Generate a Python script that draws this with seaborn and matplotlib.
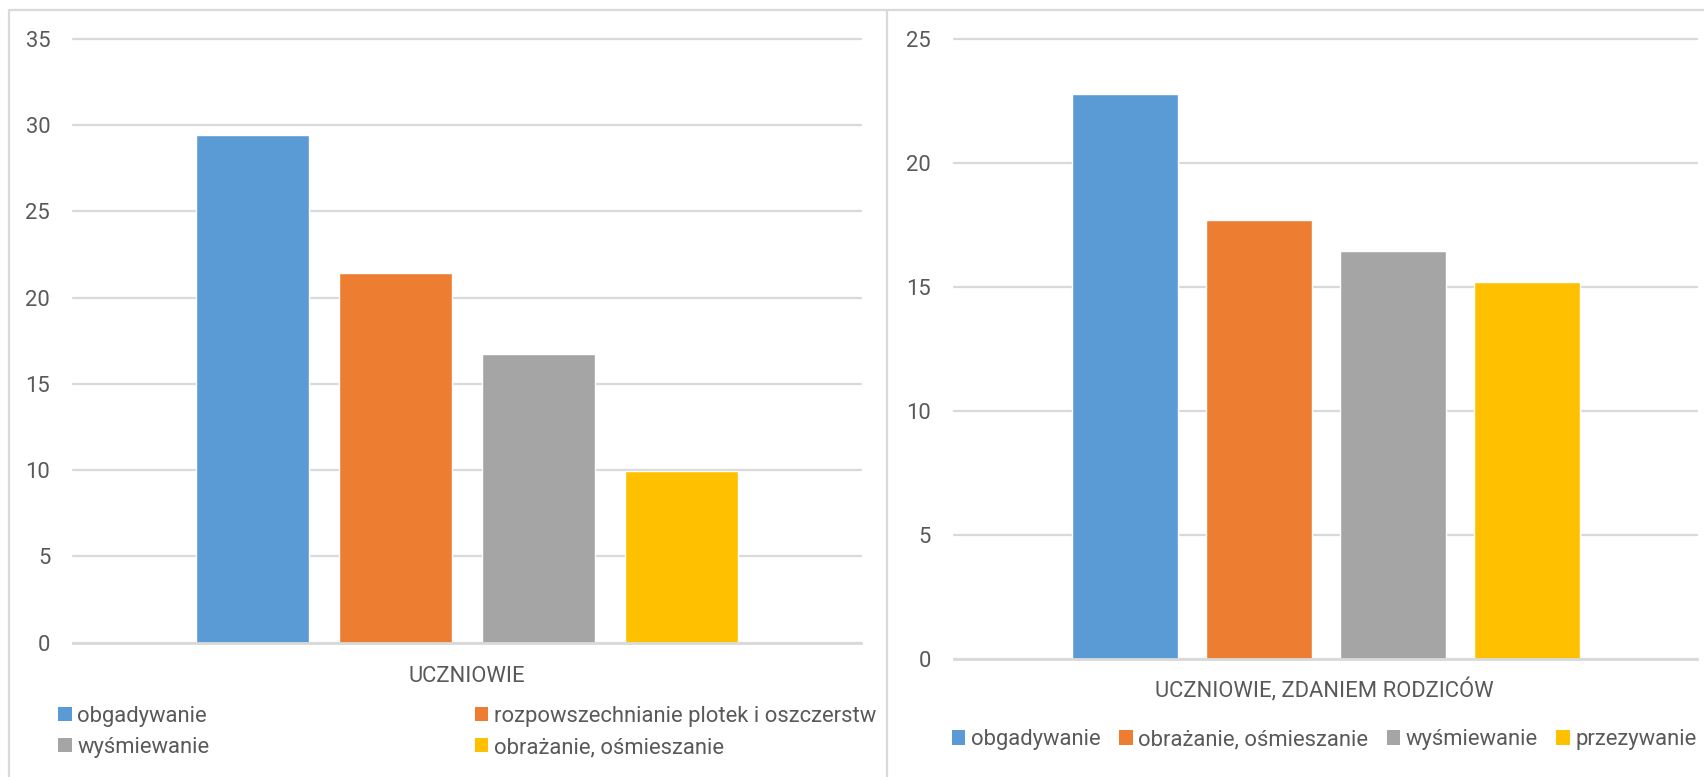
import matplotlib
matplotlib.use("Agg")
import matplotlib.pyplot as plt
import matplotlib.patches as mpatches
from matplotlib.lines import Line2D
import seaborn as sns
import pandas as pd

# ---------------- data ----------------
left_group = "UCZNIOWIE"
left_categories = ["obgadywanie", "rozpowszechnianie plotek i oszczerstw",
                   "wyśmiewanie", "obrażanie, ośmieszanie"]
left_values = [29.44, 21.43, 16.72, 9.96]
left_yticks = [0, 5, 10, 15, 20, 25, 30, 35]

right_group = "UCZNIOWIE, ZDANIEM RODZICÓW"
right_categories = ["obgadywanie", "obrażanie, ośmieszanie",
                    "wyśmiewanie", "przezywanie"]
right_values = [22.78, 17.70, 16.44, 15.19]
right_yticks = [0, 5, 10, 15, 20, 25]

colors = ["#5B9BD5", "#ED7D31", "#A5A5A5", "#FFC000"]

# ---------------- style ----------------
W, H = 1704, 777
sns.set_theme(style="white")
plt.rcParams['font.family'] = ['Roboto', 'DejaVu Sans']
TEXT = "#595959"
GRID = "#D9D9D9"
FS = 15.8

fig = plt.figure(figsize=(W / 100, H / 100), dpi=100)


def px_axes(x0, x1, y0, y1):
    return fig.add_axes([x0 / W, 1 - y1 / H, (x1 - x0) / W, (y1 - y0) / H])


def draw(ax, cats, vals, yticks, step_px, bar_px, width_px):
    df = pd.DataFrame({"cat": cats, "val": vals})
    sns.barplot(data=df, x="cat", y="val", hue="cat", order=cats, hue_order=cats,
                palette=colors, saturation=1, width=bar_px / step_px,
                legend=False, ax=ax, zorder=2)
    n = len(cats)
    half = width_px / step_px / 2
    ax.set_xlim((n - 1) / 2 - half, (n - 1) / 2 + half)
    ax.set_ylim(yticks[0], yticks[-1])
    ax.set_yticks(yticks)
    ax.set_xticks([])
    ax.set_xlabel("")
    ax.set_ylabel("")
    ax.yaxis.grid(True, color=GRID, linewidth=1.6)
    for g in ax.get_ygridlines():
        g.set_clip_on(False)
    ax.set_axisbelow(True)
    for s in ["top", "right", "left"]:
        ax.spines[s].set_visible(False)
    ax.spines["bottom"].set_color(GRID)
    ax.spines["bottom"].set_linewidth(2)
    ax.tick_params(axis="y", length=0, pad=16.6, labelsize=FS, labelcolor=TEXT)
    ax.set_facecolor("none")


# left chart
axL = px_axes(73.3, 860.7, 39, 642.7)
draw(axL, left_categories, left_values, left_yticks, 143, 113, 860.7 - 73.3)
fig.text(467 / W, 1 - 681.7 / H, left_group, ha="center", va="baseline",
         fontsize=FS, color=TEXT)

# right chart
axR = px_axes(954, 1697, 39, 659)
draw(axR, right_categories, right_values, right_yticks, 134, 106, 1697 - 954)
fig.text(1324 / W, 1 - 697 / H, right_group, ha="center", va="baseline",
         fontsize=FS, color=TEXT)

# legends
def handles_for(cats):
    return [mpatches.Patch(facecolor=colors[i], edgecolor="none") for i in range(len(cats))]

legkw = dict(frameon=False, handlelength=0.61, handleheight=0.61,
             handletextpad=0.25, borderpad=0, borderaxespad=0,
             fontsize=FS, labelcolor=TEXT, labelspacing=0.47)

hL = handles_for(left_categories)
fig.legend([hL[0], hL[2]], [left_categories[0], left_categories[2]],
           loc="center left", bbox_to_anchor=(58.3 / W, 1 - 731.9 / H), **legkw)
fig.legend([hL[1], hL[3]], [left_categories[1], left_categories[3]],
           loc="center left", bbox_to_anchor=(475 / W, 1 - 731.9 / H), **legkw)

hR = handles_for(right_categories)
fig.legend(hR, right_categories, loc="center left", ncol=4, columnspacing=0.85,
           bbox_to_anchor=(952 / W, 1 - 739.7 / H), **legkw)

# chart area borders
for xs, ys in [([9, 9], [10, H]), ([887, 887], [10, H]), ([9, W], [10, 10])]:
    fig.add_artist(Line2D([x / W for x in xs], [1 - y / H for y in ys],
                          transform=fig.transFigure, color=GRID, linewidth=1.6))

fig.savefig("out.png", dpi=100)
